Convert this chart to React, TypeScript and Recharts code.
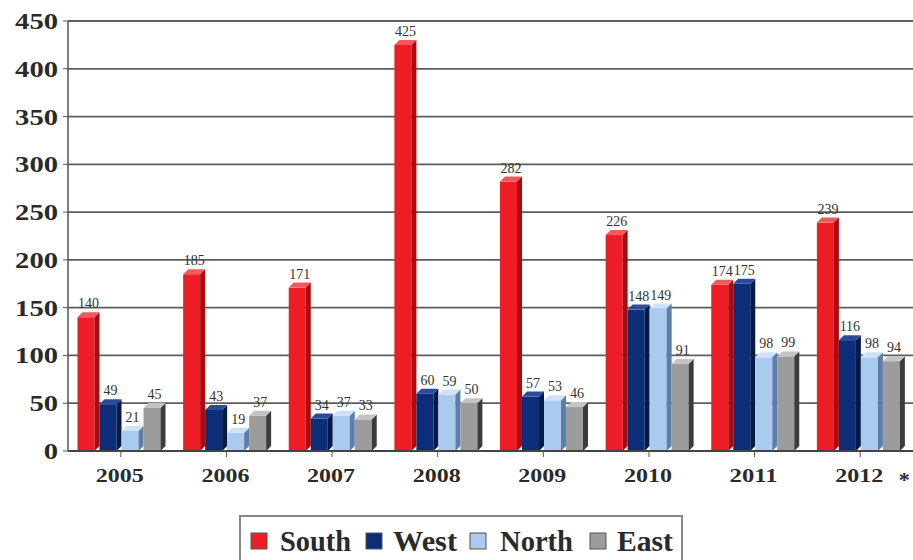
import React from "react";
import { BarChart, Bar, XAxis, YAxis, CartesianGrid, LabelList } from "recharts";

const years = ["2005", "2006", "2007", "2008", "2009", "2010", "2011", "2012"];
const south = [140, 185, 171, 425, 282, 226, 174, 239];
const west = [49, 43, 34, 60, 57, 148, 175, 116];
const north = [21, 19, 37, 59, 53, 149, 98, 98];
const east = [45, 37, 33, 50, 46, 91, 99, 94];
const yTicks = [0, 50, 100, 150, 200, 250, 300, 350, 400, 450];
const seriesNames = ["South", "West", "North", "East"];

const data = years.map((y, i) => ({
  year: y,
  South: south[i],
  West: west[i],
  North: north[i],
  East: east[i],
}));

const colors: Record<string, { front: string; side: string; top: string }> = {
  South: { front: "#ee1c24", side: "#a80c10", top: "#f4585c" },
  West: { front: "#0c2d78", side: "#061a48", top: "#2a4c98" },
  North: { front: "#a9cbef", side: "#5c7ea8", top: "#cfe2f7" },
  East: { front: "#9c9c9c", side: "#3c3c3c", top: "#c4c4c4" },
};

const FONT = "'Liberation Serif', 'DejaVu Serif', serif";

const make3D = (c: { front: string; side: string; top: string }) => (props: any) => {
  const { x, y, width, height } = props;
  if (height == null || width == null) return null;
  const d = 5;
  const w = width - d;
  return (
    <g>
      <rect x={x} y={y} width={w} height={height} fill={c.front} />
      <polygon
        points={`${x + w},${y} ${x + w + d},${y - d} ${x + w + d},${y + height - d} ${x + w},${y + height}`}
        fill={c.side}
      />
      <polygon
        points={`${x},${y} ${x + d},${y - d} ${x + w + d},${y - d} ${x + w},${y}`}
        fill={c.top}
      />
    </g>
  );
};

const YTick = (props: any) => {
  const { x, y, payload } = props;
  const s = String(payload.value);
  return (
    <text
      x={x - 3}
      y={y}
      dy={8}
      textAnchor="end"
      fontFamily={FONT}
      fontWeight="bold"
      fontSize={24}
      fill="#2a2a2a"
      textLength={s.length * 14.3}
      lengthAdjust="spacingAndGlyphs"
    >
      {s}
    </text>
  );
};

const XTick = (props: any) => {
  const { x, y, payload } = props;
  return (
    <g>
      <text
        x={x - 1}
        y={y + 23}
        textAnchor="middle"
        fontFamily={FONT}
        fontWeight="bold"
        fontSize={18}
        fill="#2a2a2a"
        textLength={48}
        lengthAdjust="spacingAndGlyphs"
      >
        {payload.value}
      </text>
      {payload.value === "2012" ? (
        <text x={x + 44} y={y + 28} textAnchor="middle" fontFamily={FONT} fontWeight="bold" fontSize={22} fill="#2a2a2a">
          *
        </text>
      ) : null}
    </g>
  );
};

const legendItems = [
  { sq: 251, tx: 280, tw: 71 },
  { sq: 366, tx: 393, tw: 64 },
  { sq: 470, tx: 500, tw: 73 },
  { sq: 590, tx: 617, tw: 56 },
];

const LegendBox = () => (
  <svg width={913} height={50} style={{ position: "absolute", left: 0, top: 510 }}>
    <rect x={240} y={6} width={442} height={45} fill="#fff" stroke="#888" strokeWidth={2} />
    {seriesNames.map((n, i) => (
      <g key={n}>
        <rect x={legendItems[i].sq} y={23} width={16} height={16} fill={colors[n].front} stroke="#555" strokeWidth={1} />
        <text
          x={legendItems[i].tx}
          y={41}
          fontFamily={FONT}
          fontWeight="bold"
          fontSize={29}
          fill="#2a2a2a"
          textLength={legendItems[i].tw}
          lengthAdjust="spacingAndGlyphs"
        >
          {n}
        </text>
      </g>
    ))}
  </svg>
);

export default function App() {
  return (
    <div style={{ position: "absolute", left: 0, top: 0, width: 913, height: 560, background: "#fff" }}>
      <BarChart
        width={913}
        height={505}
        data={data}
        margin={{ top: 21, right: 0, left: 0, bottom: 0 }}
        barCategoryGap="9%"
        barGap={0}
      >
        <CartesianGrid vertical={false} stroke="#5e5e5e" strokeWidth={1.8} />
        <XAxis
          dataKey="year"
          tick={<XTick />}
          tickLine={{ stroke: "#555" }}
          axisLine={{ stroke: "#444", strokeWidth: 2 }}
          height={54}
          interval={0}
        />
        <YAxis
          domain={[0, 450]}
          ticks={yTicks}
          tick={<YTick />}
          width={68}
          tickLine={{ stroke: "#555" }}
          axisLine={{ stroke: "#555", strokeWidth: 1.5 }}
          tickSize={5}
        />
        {seriesNames.map((n) => (
          <Bar key={n} dataKey={n} isAnimationActive={false} shape={make3D(colors[n])}>
            <LabelList
              dataKey={n}
              position="top"
              offset={9}
              style={{ fontFamily: FONT, fontSize: 14, fill: "#333" }}
            />
          </Bar>
        ))}
      </BarChart>
      <LegendBox />
    </div>
  );
}
